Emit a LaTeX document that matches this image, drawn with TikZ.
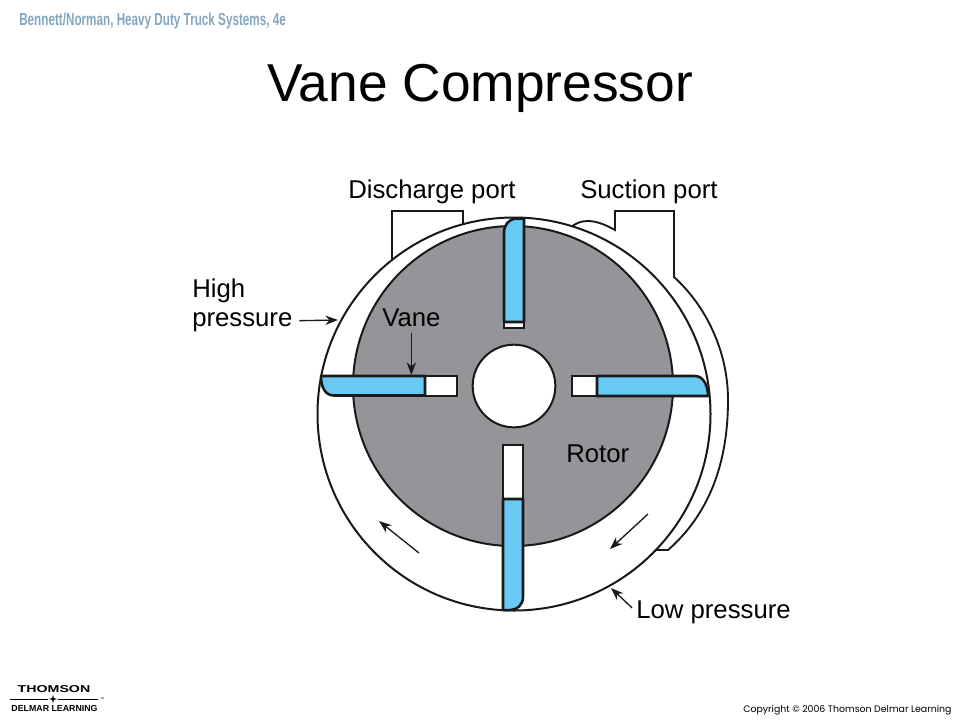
\documentclass[tikz,border=0pt]{standalone}
\usepackage{fontspec}
\setmainfont{Liberation Sans}
\newfontfamily\headfont[FakeStretch=0.675]{Liberation Sans}
\newfontfamily\logofont[FakeStretch=1.42]{Liberation Sans}
\newfontfamily\copyfont{Poppins}
\usepackage{tikz}
\usetikzlibrary{shapes, arrows.meta}
\definecolor{rotorgray}{RGB}{147,149,152}
\definecolor{vaneblue}{RGB}{104,202,242}
\definecolor{headblue}{RGB}{132,166,190}

\begin{document}
\begin{tikzpicture}[
    x = 0.75pt, y = -0.75pt,
    > = {Stealth[length=9.5pt, width=7pt]}, % Small solid arrowheads
    wall/.style={draw=black!90, line width=1.4pt},
    disc/.style={circle, draw=black!90, line width=1.5pt, inner sep=0pt},
    slot/.style={draw=black!90, fill=white, line width=1.9pt},
    blade/.style={draw=black!90, fill=vaneblue, line width=1.9pt, line join=round},
    pointer/.style={->, black!90, line width=1pt},
    tag/.style={anchor=base west, inner sep=0pt, font=\fontsize{19.3pt}{22pt}\selectfont}
]
\useasboundingbox (0,0) rectangle (959,719);

% --- PAGE TEXT ---
\node[anchor=base west, inner sep=0pt, text=headblue, font=\headfont\bfseries\fontsize{13pt}{15pt}\selectfont] (header) at (19,25) {Bennett/Norman, Heavy Duty Truck Systems, 4e};
\node[anchor=base west, inner sep=0pt, font=\fontsize{40pt}{44pt}\selectfont] (title) at (267,101) {Vane Compressor};

% --- PORTS AND CASING ---
% Draw the two ports behind the casing
\draw[wall] (392,262) -- (392,211) -- (463,211) -- (463,225);
\draw[wall] (571,227) .. controls (580,220) and (592,217) .. (615,230) -- (615,211) -- (674,211) -- (674,277)
    .. controls (705,305) and (728,350) .. (728,400) .. controls (728,465) and (708,515) .. (668,550) -- (655,550);

% Draw the casing and the rotor
\node[disc, fill=white, minimum size=294.75pt] (casing) at (514,414) {};
\node[disc, fill=rotorgray, minimum size=240pt] (rotor) at (513,386) {};
\node[disc, fill=white, minimum size=62pt] (hub) at (514,386) {};

% --- VANES ---
% Draw the slots
\draw[slot] (504,322) rectangle (524,328);
\draw[slot] (425,376) rectangle (457,396);
\draw[slot] (572,376) rectangle (597,396);
\draw[slot] (503,445) rectangle (523,499);

% Draw the blades
\draw[blade] (504,322) -- (504,233) .. controls (504,225) and (508,219) .. (517,218.5) -- (524,218.5) -- (524,322) -- cycle;
\draw[blade] (425,376) -- (321,376) .. controls (321,387) and (325,395.5) .. (334,395.5) -- (425,395.5) -- cycle;
\draw[blade] (597,376) -- (695,376) .. controls (703,376) and (708,385) .. (708,396) -- (597,396) -- cycle;
\draw[blade] (503,499) -- (523,499) -- (523,597) .. controls (523,605) and (517,610) .. (510,610) -- (503,610) -- cycle;

% --- LABELS ---
\node[tag] (discharge) at (348,198) {Discharge port};
\node[tag] (suction) at (580,198) {Suction port};
\node[tag] (high) at (192,297) {High};
\node[tag] (pressure) at (192,326) {pressure};
\node[tag] (vane) at (382,326) {Vane};
\node[tag] (rotorlabel) at (566,462) {Rotor};
\node[tag] (low) at (636,618) {Low pressure};

% Draw the pointers
\coordinate (hightip) at (338,320);
\coordinate (vanetip) at (vane.south |- {(0,375)});
\coordinate (lowtip) at (611,588);
\draw[pointer] ([xshift=5pt,yshift=0.8pt]pressure.east) -- (hightip);
\draw[pointer] ([yshift=-5pt]vane.south) -- (vanetip);
\draw[pointer] ([xshift=-3pt,yshift=3pt]low.west) -- (lowtip);

% Draw the rotation arrows
\coordinate (leftfrom) at (419,553);
\coordinate (leftto) at (379,521);
\coordinate (rightfrom) at (648,514);
\coordinate (rightto) at (610,549);
\draw[pointer] (leftfrom) -- (leftto);
\draw[pointer] (rightfrom) -- (rightto);

% --- LOGO AND COPYRIGHT ---
\node[anchor=base, inner sep=0pt, font=\logofont\bfseries\fontsize{7.5pt}{9pt}\selectfont] (thomson) at (54,692) {THOMSON};
\node[star, star points=4, star point ratio=3.5, fill=black, inner sep=0pt, minimum size=6.5pt] (logostar) at (53,699) {};
\coordinate (rulestart) at (10,699);
\coordinate (ruleend) at (98,699);
\draw[line width=0.5pt] (rulestart) -- (logostar) -- (ruleend);
\node[anchor=west, inner sep=0pt, font=\fontsize{3pt}{3pt}\selectfont] (trademark) at (100,699) {™};
\node[anchor=base, inner sep=0pt, font=\bfseries\fontsize{6.6pt}{8pt}\selectfont] (delmar) at (54.5,711) {DELMAR LEARNING};
\node[anchor=base west, inner sep=0pt, font=\copyfont\fontsize{7.05pt}{9pt}\selectfont] (copyright) at (743,712) {Copyright © 2006 Thomson Delmar Learning};

\end{tikzpicture}
\end{document}
